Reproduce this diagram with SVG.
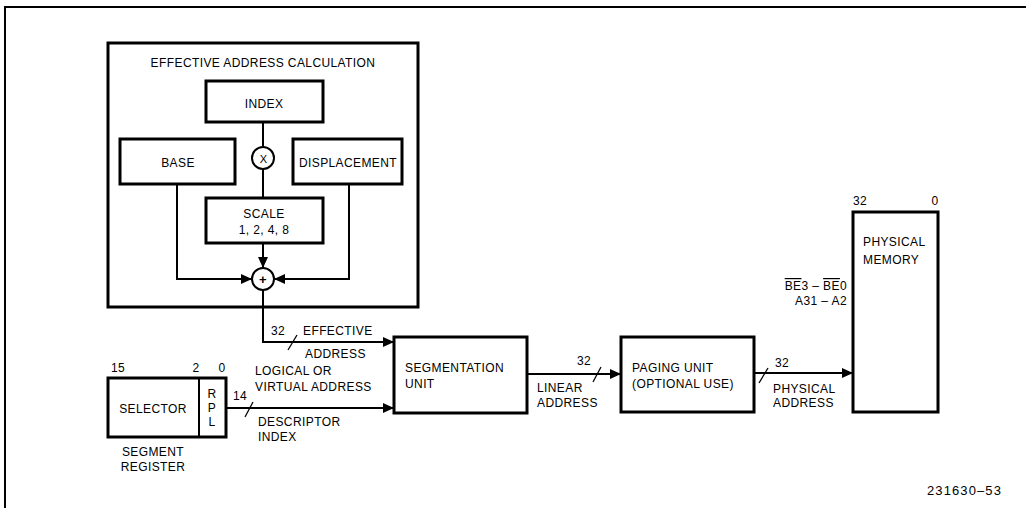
<svg xmlns="http://www.w3.org/2000/svg" width="1026" height="508" viewBox="0 0 1026 508">
<style>
text{font-family:"Liberation Sans",Arial,sans-serif;font-size:12px;fill:#000;letter-spacing:0.4px}
.box{fill:#fff;stroke:#000;stroke-width:3}
.ln{fill:none;stroke:#000;stroke-width:2}
.thin{fill:none;stroke:#000;stroke-width:1.3}
.c{text-anchor:middle}
.r{text-anchor:end}
.id{font-size:13px;letter-spacing:1.1px}
</style>
<defs>
<marker id="ah" markerUnits="userSpaceOnUse" markerWidth="12" markerHeight="10" refX="11" refY="5" orient="auto">
<path d="M0,0 L11,5 L0,10 z" fill="#000"/>
</marker>
</defs>
<path d="M5,508 V7 H1026" fill="none" stroke="#000" stroke-width="2"/>

<g id="ea-calc">
<rect class="box" x="108" y="43" width="310" height="264"/>
<text class="c" x="263" y="67">EFFECTIVE ADDRESS CALCULATION</text>
</g>
<g id="index"><rect class="box" x="206" y="81" width="117" height="41"/><text class="c" x="264" y="108">INDEX</text></g>
<g id="base"><rect class="box" x="120" y="139" width="115" height="45"/><text class="c" x="178" y="167">BASE</text></g>
<g id="displacement"><rect class="box" x="293" y="139" width="109" height="45"/><text class="c" x="348" y="167">DISPLACEMENT</text></g>
<g id="times"><circle cx="263" cy="158" r="11" fill="#fff" stroke="#000" stroke-width="2"/><text class="c" x="263.5" y="162.5" style="font-size:11px">X</text></g>
<g id="scale"><rect class="box" x="206" y="198" width="117" height="45"/><text class="c" x="264" y="218">SCALE</text><text class="c" x="264" y="234">1, 2, 4, 8</text></g>
<g id="plus"><circle cx="263" cy="279" r="11" fill="#fff" stroke="#000" stroke-width="2"/><text class="c" x="263" y="284" style="font-size:13px;font-weight:bold">+</text></g>

<g id="segment-register">
<rect class="box" x="108" y="378" width="118" height="59"/>
<line x1="199" y1="378" x2="199" y2="437" stroke="#000" stroke-width="2"/>
<text class="c" x="153" y="413">SELECTOR</text>
<text class="c" x="212" y="398">R</text>
<text class="c" x="212" y="412">P</text>
<text class="c" x="212" y="426">L</text>
<text x="111" y="372">15</text>
<text class="c" x="196" y="372">2</text>
<text class="c" x="222" y="372">0</text>
<text class="c" x="153" y="456">SEGMENT</text>
<text class="c" x="153" y="471">REGISTER</text>
</g>
<g id="segmentation-unit"><rect class="box" x="394" y="337" width="133" height="76"/><text x="405" y="372">SEGMENTATION</text><text x="405" y="388">UNIT</text></g>
<g id="paging-unit"><rect class="box" x="621" y="337" width="133" height="75"/><text x="632" y="372">PAGING UNIT</text><text x="632" y="388">(OPTIONAL USE)</text></g>
<g id="physical-memory">
<rect class="box" x="853" y="212" width="85" height="200"/>
<text x="863" y="246">PHYSICAL</text><text x="863" y="264">MEMORY</text>
<text x="853" y="205">32</text>
<text class="c" x="935" y="205">0</text>
<text class="r" x="847" y="290"><tspan text-decoration="overline">BE</tspan>3 – <tspan text-decoration="overline">BE</tspan>0</text>
<text class="r" x="847" y="305">A31 – A2</text>
</g>

<g id="connectors">
<line class="ln" x1="263" y1="122" x2="263" y2="147"/>
<line class="ln" x1="263" y1="169" x2="263" y2="198"/>
<line class="ln" x1="263" y1="243" x2="263" y2="268" marker-end="url(#ah)"/>
<polyline class="ln" points="177,184 177,279 252,279" marker-end="url(#ah)"/>
<polyline class="ln" points="349,184 349,279 274,279" marker-end="url(#ah)"/>
<polyline class="ln" points="263,290 263,342 394,342" marker-end="url(#ah)"/>
<line class="ln" x1="226" y1="408" x2="394" y2="408" marker-end="url(#ah)"/>
<line class="ln" x1="527" y1="374" x2="621" y2="374" marker-end="url(#ah)"/>
<line class="ln" x1="754" y1="373" x2="853" y2="373" marker-end="url(#ah)"/>
<line class="thin" x1="288" y1="350" x2="297" y2="335"/>
<line class="thin" x1="245" y1="417" x2="253" y2="402"/>
<line class="thin" x1="593" y1="382" x2="601" y2="367"/>
<line class="thin" x1="759" y1="383" x2="768" y2="368"/>
</g>
<g id="labels">
<text x="271" y="335">32</text>
<text x="303" y="335">EFFECTIVE</text>
<text x="305" y="358">ADDRESS</text>
<text x="255" y="375">LOGICAL OR</text>
<text x="255" y="391">VIRTUAL ADDRESS</text>
<text x="233" y="400">14</text>
<text x="258" y="426">DESCRIPTOR</text>
<text x="258" y="441">INDEX</text>
<text x="577" y="365">32</text>
<text x="537" y="392">LINEAR</text>
<text x="537" y="407">ADDRESS</text>
<text x="775" y="367">32</text>
<text x="773" y="393">PHYSICAL</text>
<text x="773" y="407">ADDRESS</text>
<text class="id" x="927" y="495">231630–53</text>
</g>
</svg>
